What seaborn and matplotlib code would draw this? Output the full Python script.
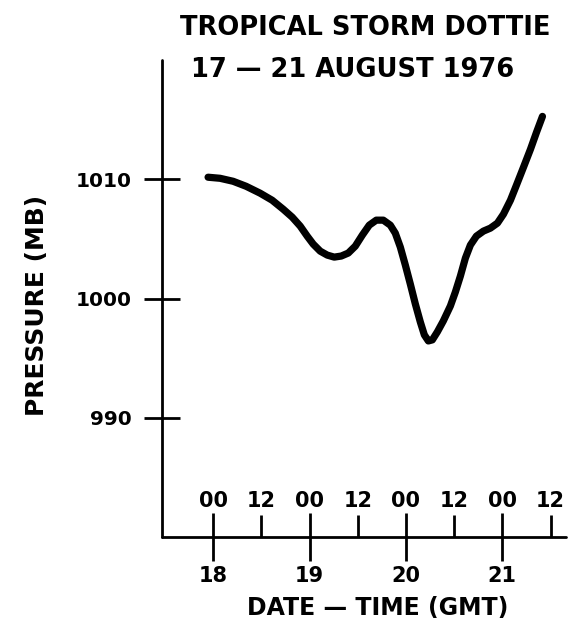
import matplotlib
matplotlib.use("Agg")
import matplotlib.pyplot as plt
import seaborn as sns
import pandas as pd

# Surface pressure trace of Tropical Storm Dottie, 17-21 August 1976
hours_from_18_00z = [-1.25, 1.74, 4.98, 8.22, 11.71, 14.70, 17.44, 19.69, 21.68,
                     23.42, 24.92, 26.66, 28.41, 30.15, 31.90, 33.64, 35.39,
                     37.13, 38.87, 40.62, 42.36, 44.11, 45.35, 46.60, 47.85,
                     49.09, 50.34, 51.58, 52.58, 53.58, 54.57, 55.82, 57.31,
                     59.06, 60.30, 61.55, 62.80, 64.04, 65.54, 67.28, 69.02,
                     70.77, 72.27, 74.01, 75.50, 77.25, 78.99, 80.49, 81.98]
pressure_mb = [1010.17, 1010.08, 1009.83, 1009.41, 1008.83, 1008.24, 1007.49,
               1006.82, 1006.07, 1005.23, 1004.56, 1003.97, 1003.64, 1003.47,
               1003.56, 1003.81, 1004.39, 1005.31, 1006.15, 1006.57, 1006.57,
               1006.15, 1005.48, 1004.31, 1002.80, 1001.21, 999.54, 998.03,
               996.95, 996.44, 996.53, 997.20, 998.12, 999.37, 1000.54,
               1001.88, 1003.39, 1004.48, 1005.23, 1005.65, 1005.90, 1006.32,
               1007.07, 1008.24, 1009.50, 1011.00, 1012.51, 1013.93, 1015.27]

date_days = [18, 19, 20, 21]
date_labels = ["18", "19", "20", "21"]
half_days = [18.0, 18.5, 19.0, 19.5, 20.0, 20.5, 21.0, 21.5]
hour_labels = ["00", "12", "00", "12", "00", "12", "00", "12"]
pressure_ticks = [990, 1000, 1010]

df = pd.DataFrame({
    "day": [18 + h / 24.0 for h in hours_from_18_00z],
    "pressure": pressure_mb,
})

sns.set_theme(style="white")
plt.rcParams["font.family"] = ["DejaVu Sans"]
plt.rcParams["text.color"] = "black"

INK = "black"

fig = plt.figure(figsize=(5.82, 6.4), dpi=100)
ax = fig.add_axes([162 / 582, 1 - 537 / 640, (566 - 162) / 582, (537 - 60) / 640])

sns.lineplot(data=df, x="day", y="pressure", ax=ax, color=INK,
             linewidth=5.2, solid_capstyle="round", solid_joinstyle="round")

ax.set_xlim(17.47, 21.66)
ax.set_ylim(980.0, 1020.0)

for side in ("top", "right"):
    ax.spines[side].set_visible(False)
for side in ("left", "bottom"):
    ax.spines[side].set_color(INK)
    ax.spines[side].set_linewidth(2.0)
    ax.spines[side].set_capstyle("round")

# pressure ticks crossing the vertical axis
ax.set_yticks(pressure_ticks)
ax.set_yticklabels([str(p) for p in pressure_ticks], fontsize=14.5, fontweight="bold")
ax.tick_params(axis="y", which="major", left=True, direction="inout", length=26,
               width=2.0, pad=9, colors=INK, labelcolor=INK)

# 00Z ticks cross the time axis; 12Z ticks stand above it
ax.set_xticks(date_days)
ax.set_xticklabels(date_labels, fontsize=15, fontweight="bold")
ax.set_xticks([d for d in half_days if d not in date_days], minor=True)
ax.tick_params(axis="x", which="major", bottom=True, direction="inout", length=34,
               width=2.0, pad=4, colors=INK, labelcolor=INK)
ax.tick_params(axis="x", which="minor", bottom=True, direction="in", length=16,
               width=2.0, colors=INK)

for d, lab in zip(half_days, hour_labels):
    ax.annotate(lab, xy=(d, 0), xycoords=("data", "axes fraction"),
                xytext=(0, 19), textcoords="offset points", color=INK,
                ha="center", va="bottom", fontsize=15, fontweight="bold")

ax.set_xlabel("DATE — TIME (GMT)", fontsize=17, fontweight="bold", color=INK)
ax.set_ylabel("PRESSURE (MB)", fontsize=18, fontweight="bold", color=INK)
ax.yaxis.set_label_coords(-0.31, 0.485)
ax.xaxis.set_label_coords(0.535, -0.148)
ax.xaxis.label.set_va("center")
ax.yaxis.label.set_va("center")

fig.text(365 / 582, 1 - 28 / 640, "TROPICAL STORM DOTTIE", ha="center", va="center",
         fontsize=18.5, fontweight="bold", color=INK)
fig.text(353 / 582, 1 - 70 / 640, "17 — 21 AUGUST 1976", ha="center", va="center",
         fontsize=18.5, fontweight="bold", color=INK)

fig.savefig("out.png", dpi=100, facecolor="white")
